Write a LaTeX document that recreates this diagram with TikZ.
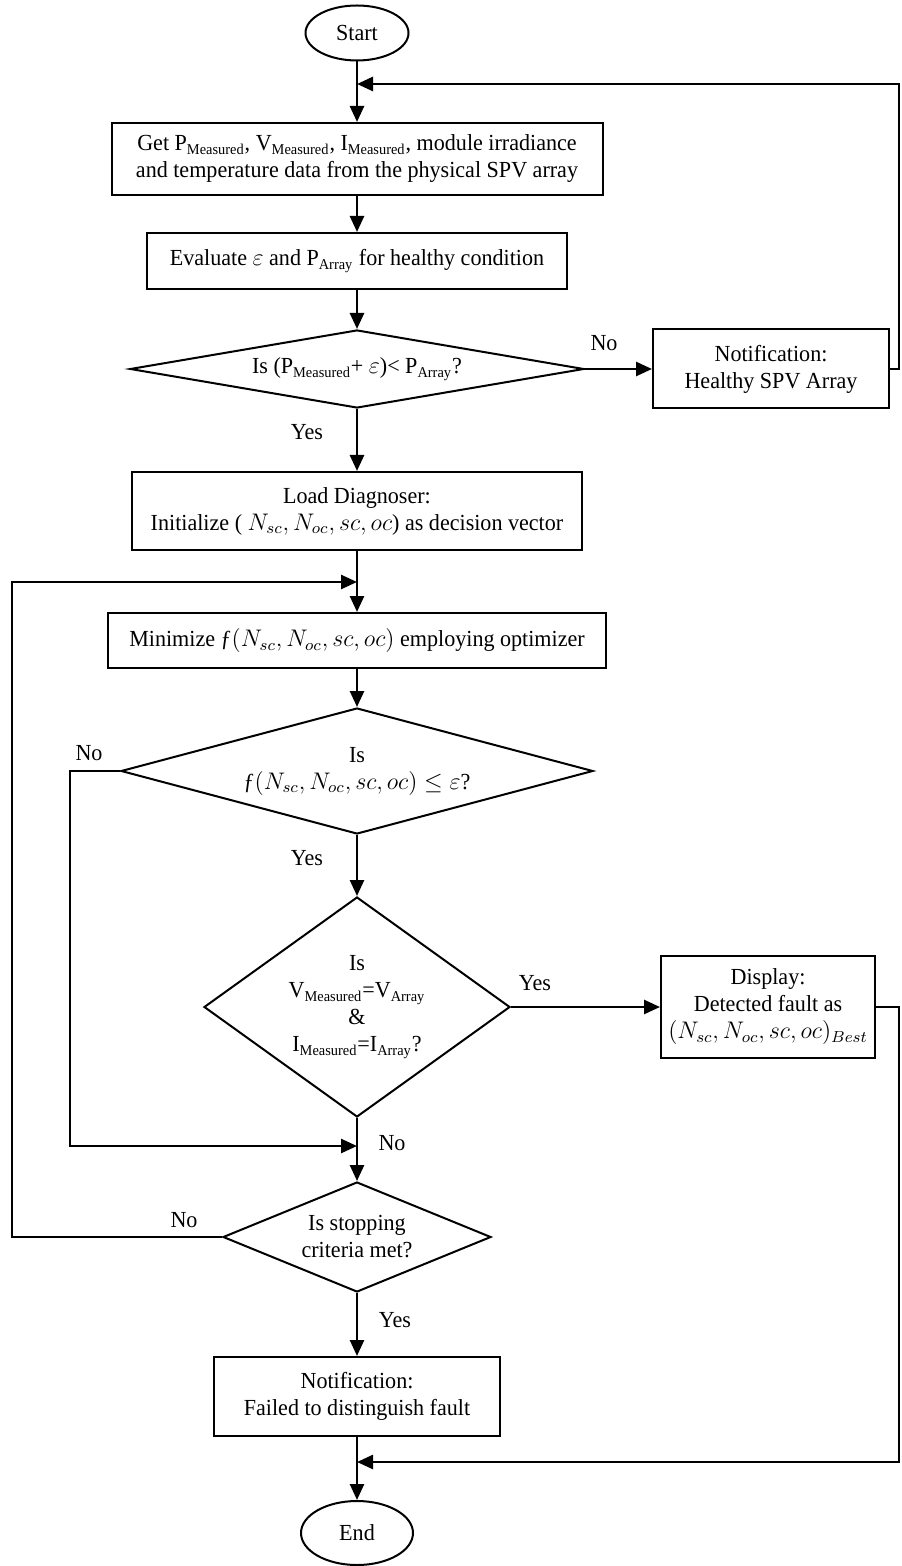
\documentclass[tikz,border=0pt]{standalone}
\usepackage{fontspec}
\setmainfont{Liberation Serif}[FakeStretch=0.96]
\usetikzlibrary{shapes.geometric,arrows.meta}
\newcommand{\lo}[1]{\textsubscript{\fontsize{7.5}{7.5}\selectfont #1}}
\begin{document}
\begin{tikzpicture}[x=0.5pt,y=-0.5pt,
  font=\fontsize{11.5}{13.5}\selectfont,
  base/.style={draw, line width=1pt, align=center, inner sep=0pt},
  procbox/.style={base, rectangle},
  term/.style={base, ellipse},
  decision/.style={base, diamond},
  conn/.style={line width=1.3pt, -{Triangle[length=8pt,width=7pt]}},
  lbl/.style={inner sep=0pt}]
\useasboundingbox (0,0) rectangle (901,1566);

% nodes
\node[term, minimum width=51.5pt, minimum height=27.5pt] (start) at (357,33) {Start};
\node[procbox, minimum width=245.5pt, minimum height=36pt] (box1) at (357,159)
  {Get P\lo{Measured}, V\lo{Measured}, I\lo{Measured}, module irradiance\\ and temperature data from the physical SPV array};
\node[procbox, minimum width=210pt, minimum height=28pt] (box2) at (357,261)
  {Evaluate $\varepsilon$ and P\lo{Array} for healthy condition};
\node[decision, aspect=5.8, minimum width=227pt, minimum height=39pt] (d1) at (357,369)
  {Is (P\lo{Measured}+ $\varepsilon$)< P\lo{Array}?};
\node[procbox, minimum width=118pt, minimum height=39.5pt] (notif) at (771,369)
  {Notification:\\ Healthy SPV Array};
\node[procbox, minimum width=225pt, minimum height=39pt] (box3) at (357,511)
  {Load Diagnoser:\\ Initialize ( $N_{sc},N_{oc},sc,oc$) as decision vector};
\node[procbox, minimum width=249pt, minimum height=27.5pt] (box4) at (357,640.5)
  {Minimize ƒ$(N_{sc},N_{oc},sc,oc)$ employing optimizer};
\node[decision, aspect=3.75, minimum width=236pt, minimum height=63pt] (d2) at (357,771)
  {Is\\ ƒ$(N_{sc},N_{oc},sc,oc)\leq\varepsilon$?};
\node[decision, aspect=1.39, minimum width=153pt, minimum height=110pt] (d3) at (357,1007)
  {Is\\ V\lo{Measured}=V\lo{Array}\\ \&\\ I\lo{Measured}=I\lo{Array}?};
\node[procbox, minimum width=107pt, minimum height=51pt] (display) at (768,1007)
  {Display:\\ Detected fault as\\ $(N_{sc},N_{oc},sc,oc)_{Best}$};
\node[decision, aspect=2.44, minimum width=134pt, minimum height=55pt] (d4) at (357,1237)
  {Is stopping\\ criteria met?};
\node[procbox, minimum width=143pt, minimum height=39.5pt] (box5) at (357,1396.5)
  {Notification:\\ Failed to distinguish fault};
\node[term, minimum width=56pt, minimum height=32pt] (end) at (357,1533) {End};

% merge points and corners
\coordinate (m1) at (357,84);
\coordinate (m2) at (357,582);
\coordinate (m3) at (357,1146);
\coordinate (m4) at (357,1462);
\coordinate (R1) at (899,369);
\coordinate (R2) at (899,1007);
\coordinate (L1) at (12,1237);
\coordinate (L2) at (70,771);

% connectors
\draw[conn] (start) -- (box1);
\draw[conn] (box1) -- (box2);
\draw[conn] (box2) -- (d1);
\draw[conn] (d1) -- (notif);
\draw[conn] (d1) -- (box3);
\draw[conn] (box3) -- (box4);
\draw[conn] (box4) -- (d2);
\draw[conn] (d2) -- (d3);
\draw[conn] (d3) -- (display);
\draw[conn] (d3) -- (d4);
\draw[conn] (d4) -- (box5);
\draw[conn] (box5) -- (end);
\draw[conn] (notif.east) -- (R1) |- (m1);
\draw[conn] (display.east) -- (R2) |- (m4);
\draw[conn] (d4.west) -- (L1) |- (m2);
\draw[conn] (d2.west) -- (L2) |- (m3);

% labels
\node[lbl] (no1) at (604,343) {No};
\node[lbl] (yes1) at (307,432) {Yes};
\node[lbl] (no2) at (89,753) {No};
\node[lbl] (yes2) at (307,858) {Yes};
\node[lbl] (yes3) at (535,983) {Yes};
\node[lbl] (no3) at (392,1143) {No};
\node[lbl] (no4) at (184,1220) {No};
\node[lbl] (yes4) at (395,1320) {Yes};
\end{tikzpicture}
\end{document}
